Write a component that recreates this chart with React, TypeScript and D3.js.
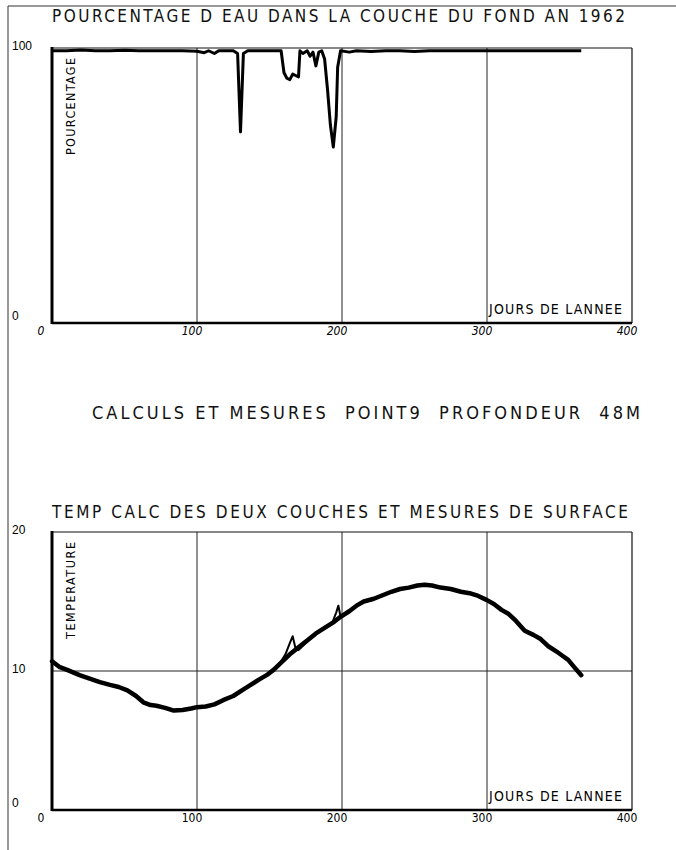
import React from "react";
import * as d3 from "d3";

const waterDays = [0, 10, 20, 30, 40, 50, 60, 70, 80, 90, 100, 105, 108, 112, 115, 120, 125, 128, 130, 132, 135, 140, 145, 150, 155, 158, 160, 162, 164, 166, 168, 170, 171, 173, 176, 178, 180, 182, 184, 186, 188, 190, 192, 194, 196, 197, 199, 205, 210, 220, 230, 240, 250, 260, 270, 280, 290, 300, 310, 320, 330, 340, 350, 365];
const waterPct = [99, 99, 99.3, 99, 99, 99.2, 99, 99, 99, 99, 98.8, 98.3, 99, 98, 99, 99, 99, 98, 69.5, 98, 99, 99, 99, 99, 99, 99, 91, 89, 88.5, 90.5, 90, 89.5, 99, 98, 99, 97, 98.5, 93.5, 98.5, 99, 96, 85, 72, 64, 75, 93, 99, 98.5, 99, 98.7, 99, 99, 98.7, 99, 99, 99, 99, 99, 99, 99, 99, 99, 99, 99];

const tempDays = [0, 5, 10, 19, 26, 33, 40, 46, 52, 58, 63, 68, 72, 78, 84, 90, 96, 100, 106, 112, 118, 125, 131, 137, 143, 148, 153, 158, 164, 170, 176, 182, 188, 194, 199, 205, 210, 215, 222, 228, 234, 240, 246, 252, 257, 262, 268, 275, 282, 288, 294, 300, 305, 310, 315, 320, 326, 332, 337, 342, 348, 352, 356, 360, 365];
const tempModel = [10.7, 10.3, 10.1, 9.7, 9.45, 9.2, 9.0, 8.85, 8.6, 8.2, 7.75, 7.55, 7.5, 7.35, 7.15, 7.2, 7.3, 7.4, 7.45, 7.6, 7.9, 8.2, 8.6, 9.0, 9.4, 9.7, 10.1, 10.6, 11.2, 11.7, 12.2, 12.7, 13.1, 13.5, 13.9, 14.3, 14.7, 15.0, 15.2, 15.45, 15.7, 15.9, 16.0, 16.15, 16.2, 16.15, 16.0, 15.9, 15.7, 15.6, 15.4, 15.1, 14.8, 14.4, 14.1, 13.6, 12.9, 12.6, 12.3, 11.8, 11.4, 11.1, 10.8, 10.3, 9.7];

const surfDays = [158, 161, 164, 166, 168, 170, 174, 178, 182, 186, 190, 193, 196, 197.5, 199];
const surfTemp = [10.7, 11.2, 12.0, 12.5, 11.6, 11.5, 11.9, 12.3, 12.7, 13.0, 13.2, 13.4, 14.2, 14.7, 13.9];

const xTicks = [0, 100, 200, 300, 400];
const xGrid = [100, 200, 300];
const pctTicks = [0, 100];
const tempTicks = [0, 10, 20];

const FONT = "'DejaVu Sans Condensed', 'DejaVu Sans', sans-serif";

export default function App() {
  const x = d3.scaleLinear().domain([0, 400]).range([52, 632]);
  const yTop = d3.scaleLinear().domain([0, 100]).range([323, 48]);
  const yBot = d3.scaleLinear().domain([0, 20]).range([810, 532]);

  const waterLine = d3.line<number>()
    .x((_, i) => x(waterDays[i]))
    .y((d) => yTop(d))(waterPct) as string;
  const modelLine = d3.line<number>()
    .x((_, i) => x(tempDays[i]))
    .y((d) => yBot(d))
    .curve(d3.curveLinear)(tempModel) as string;
  const surfLine = d3.line<number>()
    .x((_, i) => x(surfDays[i]))
    .y((d) => yBot(d))(surfTemp) as string;

  const panel = (y: d3.ScaleLinear<number, number>, yTicks: number[], hGrid: number[], italic: boolean, yTitle: string) => {
    const top = y.range()[1];
    const bottom = y.range()[0];
    return (
      <g>
        {xGrid.map((t) => (
          <line key={"vg" + t} x1={x(t)} x2={x(t)} y1={top} y2={bottom} stroke="#222" strokeWidth={1} />
        ))}
        {hGrid.map((t) => (
          <line key={"hg" + t} x1={x(0)} x2={x(400)} y1={y(t)} y2={y(t)} stroke="#222" strokeWidth={1} />
        ))}
        <line x1={x(0)} x2={x(400)} y1={top} y2={top} stroke="#111" strokeWidth={1.2} />
        <line x1={x(400)} x2={x(400)} y1={top} y2={bottom} stroke="#111" strokeWidth={1.2} />
        <line x1={x(0)} x2={x(400)} y1={bottom} y2={bottom} stroke="#000" strokeWidth={2.5} />
        <line x1={x(0)} x2={x(0)} y1={top - 1} y2={bottom + 1} stroke="#000" strokeWidth={3} />
        {xTicks.map((t) => (
          <text
            key={"xl" + t}
            x={x(t) - (t === 0 ? 11 : 5)}
            y={bottom + 12}
            textAnchor="middle"
            fontSize={12}
            fontFamily={FONT}
            fontStyle={italic ? "italic" : "normal"}
          >
            {t}
          </text>
        ))}
        {yTicks.map((t) => (
          <text key={"yl" + t} x={12} y={y(t) + (t === 0 ? -3 : 2)} fontSize={12} fontFamily="'Liberation Sans', Arial, sans-serif">
            {t}
          </text>
        ))}
        <text
          transform={`translate(${x(0) + 23},${top + 107}) rotate(-90)`}
          fontSize={12.5}
          fontFamily={FONT}
          textLength={97}
          lengthAdjust="spacing"
        >
          {yTitle}
        </text>
        <text x={x(300) + 2} y={bottom - 9} fontSize={14} fontFamily={FONT} textLength={133} lengthAdjust="spacing">
          JOURS DE LANNEE
        </text>
      </g>
    );
  };

  return (
    <svg width={676} height={850} style={{ position: "absolute", left: 0, top: 0, background: "#fff" }}>
      <rect width={676} height={850} fill="#fff" />
      <line x1={8} x2={676} y1={6} y2={6} stroke="#333" strokeWidth={1} />
      <line x1={8} x2={8} y1={6} y2={850} stroke="#333" strokeWidth={1} />

      <text x={52} y={22} fontSize={17} fontFamily={FONT} textLength={573} lengthAdjust="spacing" fill="#111">
        POURCENTAGE D EAU DANS LA COUCHE DU FOND AN 1962
      </text>
      {panel(yTop, pctTicks, [], true, "POURCENTAGE")}
      <path d={waterLine} fill="none" stroke="#000" strokeWidth={3} strokeLinejoin="round" />

      <text x={92} y={419} fontSize={18} fontFamily={FONT} textLength={548} lengthAdjust="spacing" fill="#111" xmlSpace="preserve">
        CALCULS ET MESURES  POINT9  PROFONDEUR  48M
      </text>

      <text x={52} y={518} fontSize={17} fontFamily={FONT} textLength={576} lengthAdjust="spacing" fill="#111">
        TEMP CALC DES DEUX COUCHES ET MESURES DE SURFACE
      </text>
      {panel(yBot, tempTicks, [10], false, "TEMPERATURE")}
      <path d={surfLine} fill="none" stroke="#000" strokeWidth={2} strokeLinejoin="round" />
      <path d={modelLine} fill="none" stroke="#000" strokeWidth={4.5} strokeLinejoin="round" strokeLinecap="round" />
    </svg>
  );
}
